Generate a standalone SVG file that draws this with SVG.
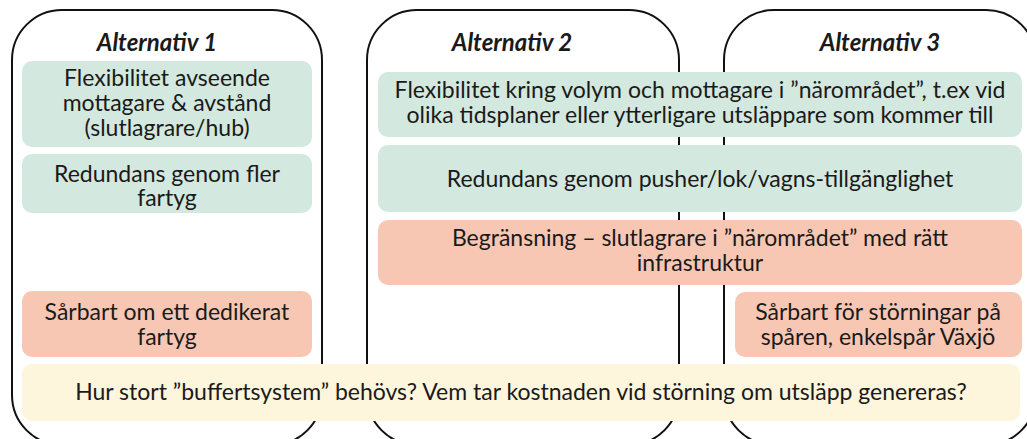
<svg xmlns="http://www.w3.org/2000/svg" width="1027" height="439" viewBox="0 0 1027 439">
<style>
.panel{fill:#fff;stroke:#111;stroke-width:2}
.g{fill:#d3e8de}
.r{fill:#f7c7b4}
.y{fill:#fdf5dc}
text{font-family:Lato,"Open Sans","Liberation Sans",sans-serif;font-size:23px;fill:#1a1a1a;text-anchor:middle}
.t{font-weight:bold;font-style:italic;font-size:24px}
</style>
<rect width="1027" height="439" fill="#fff"/>
<g id="panel1"><rect class="panel" x="12" y="10" width="310" height="435" rx="50"/><text class="t" x="157" y="51">Alternativ 1</text></g>
<g id="panel2"><rect class="panel" x="367" y="10" width="312" height="435" rx="50"/><text class="t" x="512" y="51">Alternativ 2</text></g>
<g id="panel3"><rect class="panel" x="724" y="10" width="312" height="435" rx="50"/><text class="t" x="880" y="51">Alternativ 3</text></g>
<g id="box1"><rect class="g" x="22" y="61" width="290" height="86" rx="10"/><text x="167" y="86">Flexibilitet avseende</text><text x="167" y="111">mottagare &amp; avstånd</text><text x="167" y="136">(slutlagrare/hub)</text></g>
<g id="box2"><rect class="g" x="22" y="154" width="290" height="59" rx="10"/><text x="167" y="182">Redundans genom fler</text><text x="167" y="206">fartyg</text></g>
<g id="box3"><rect class="r" x="22" y="291" width="290" height="66" rx="10"/><text x="167" y="320">Sårbart om ett dedikerat</text><text x="167" y="345">fartyg</text></g>
<g id="box4"><rect class="g" x="378" y="72" width="644" height="65" rx="10"/><text x="700" y="98">Flexibilitet kring volym och mottagare i ”närområdet”, t.ex vid</text><text x="700" y="123">olika tidsplaner eller ytterligare utsläppare som kommer till</text></g>
<g id="box5"><rect class="g" x="378" y="145" width="644" height="67" rx="10"/><text x="700" y="187">Redundans genom pusher/lok/vagns-tillgänglighet</text></g>
<g id="box6"><rect class="r" x="378" y="220" width="644" height="65" rx="10"/><text x="700" y="246">Begränsning – slutlagrare i ”närområdet” med rätt</text><text x="700" y="271">infrastruktur</text></g>
<g id="box7"><rect class="r" x="735" y="292" width="287" height="65" rx="10"/><text x="878" y="320">Sårbart för störningar på</text><text x="878" y="345">spåren, enkelspår Växjö</text></g>
<g id="box8"><rect class="y" x="22" y="364" width="998" height="57" rx="10"/><text x="521" y="400">Hur stort ”buffertsystem” behövs? Vem tar kostnaden vid störning om utsläpp genereras?</text></g>
<g id="connectors"/>
</svg>
